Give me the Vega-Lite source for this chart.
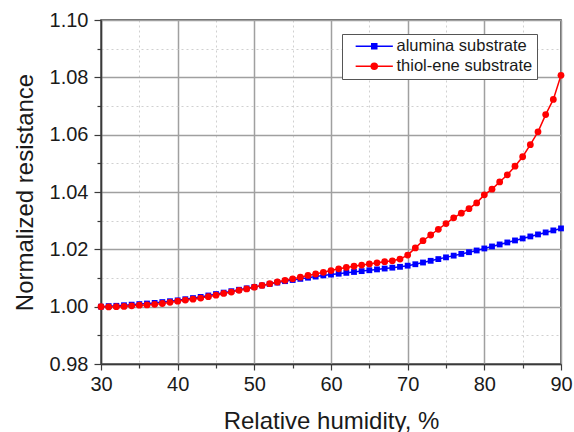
{
  "$schema": "https://vega.github.io/schema/vega-lite/v6.json",
  "width": 460,
  "height": 344,
  "autosize": {"type": "none"},
  "padding": {"left": 101, "top": 20, "right": 13, "bottom": 68},
  "background": "white",
  "config": {
    "font": "Liberation Sans",
    "view": {"stroke": "#3a3a3a", "strokeWidth": 1.5}
  },
  "data": {
    "values": [
      {"rh": 30, "alumina substrate": 1.0000, "thiol-ene substrate": 1.0000},
      {"rh": 31, "alumina substrate": 1.0002, "thiol-ene substrate": 0.9999},
      {"rh": 32, "alumina substrate": 1.0003, "thiol-ene substrate": 1.0000},
      {"rh": 33, "alumina substrate": 1.0005, "thiol-ene substrate": 1.0001},
      {"rh": 34, "alumina substrate": 1.0007, "thiol-ene substrate": 1.0003},
      {"rh": 35, "alumina substrate": 1.0009, "thiol-ene substrate": 1.0005},
      {"rh": 36, "alumina substrate": 1.0011, "thiol-ene substrate": 1.0006},
      {"rh": 37, "alumina substrate": 1.0013, "thiol-ene substrate": 1.0008},
      {"rh": 38, "alumina substrate": 1.0016, "thiol-ene substrate": 1.0011},
      {"rh": 39, "alumina substrate": 1.0019, "thiol-ene substrate": 1.0015},
      {"rh": 40, "alumina substrate": 1.0022, "thiol-ene substrate": 1.0019},
      {"rh": 41, "alumina substrate": 1.0026, "thiol-ene substrate": 1.0023},
      {"rh": 42, "alumina substrate": 1.0030, "thiol-ene substrate": 1.0026},
      {"rh": 43, "alumina substrate": 1.0034, "thiol-ene substrate": 1.0030},
      {"rh": 44, "alumina substrate": 1.0039, "thiol-ene substrate": 1.0035},
      {"rh": 45, "alumina substrate": 1.0044, "thiol-ene substrate": 1.0040},
      {"rh": 46, "alumina substrate": 1.0049, "thiol-ene substrate": 1.0046},
      {"rh": 47, "alumina substrate": 1.0054, "thiol-ene substrate": 1.0051},
      {"rh": 48, "alumina substrate": 1.0059, "thiol-ene substrate": 1.0057},
      {"rh": 49, "alumina substrate": 1.0064, "thiol-ene substrate": 1.0062},
      {"rh": 50, "alumina substrate": 1.0069, "thiol-ene substrate": 1.0068},
      {"rh": 51, "alumina substrate": 1.0074, "thiol-ene substrate": 1.0074},
      {"rh": 52, "alumina substrate": 1.0079, "thiol-ene substrate": 1.0080},
      {"rh": 53, "alumina substrate": 1.0084, "thiol-ene substrate": 1.0086},
      {"rh": 54, "alumina substrate": 1.0089, "thiol-ene substrate": 1.0092},
      {"rh": 55, "alumina substrate": 1.0093, "thiol-ene substrate": 1.0097},
      {"rh": 56, "alumina substrate": 1.0097, "thiol-ene substrate": 1.0103},
      {"rh": 57, "alumina substrate": 1.0101, "thiol-ene substrate": 1.0109},
      {"rh": 58, "alumina substrate": 1.0105, "thiol-ene substrate": 1.0114},
      {"rh": 59, "alumina substrate": 1.0109, "thiol-ene substrate": 1.0120},
      {"rh": 60, "alumina substrate": 1.0112, "thiol-ene substrate": 1.0126},
      {"rh": 61, "alumina substrate": 1.0115, "thiol-ene substrate": 1.0132},
      {"rh": 62, "alumina substrate": 1.0118, "thiol-ene substrate": 1.0137},
      {"rh": 63, "alumina substrate": 1.0121, "thiol-ene substrate": 1.0141},
      {"rh": 64, "alumina substrate": 1.0124, "thiol-ene substrate": 1.0145},
      {"rh": 65, "alumina substrate": 1.0127, "thiol-ene substrate": 1.0149},
      {"rh": 66, "alumina substrate": 1.0130, "thiol-ene substrate": 1.0153},
      {"rh": 67, "alumina substrate": 1.0133, "thiol-ene substrate": 1.0157},
      {"rh": 68, "alumina substrate": 1.0136, "thiol-ene substrate": 1.0160},
      {"rh": 69, "alumina substrate": 1.0139, "thiol-ene substrate": 1.0166},
      {"rh": 70, "alumina substrate": 1.0143, "thiol-ene substrate": 1.0180},
      {"rh": 71, "alumina substrate": 1.0148, "thiol-ene substrate": 1.0205},
      {"rh": 72, "alumina substrate": 1.0154, "thiol-ene substrate": 1.0230},
      {"rh": 73, "alumina substrate": 1.0160, "thiol-ene substrate": 1.0250},
      {"rh": 74, "alumina substrate": 1.0166, "thiol-ene substrate": 1.0270},
      {"rh": 75, "alumina substrate": 1.0172, "thiol-ene substrate": 1.0290},
      {"rh": 76, "alumina substrate": 1.0178, "thiol-ene substrate": 1.0310},
      {"rh": 77, "alumina substrate": 1.0184, "thiol-ene substrate": 1.0326},
      {"rh": 78, "alumina substrate": 1.0190, "thiol-ene substrate": 1.0342},
      {"rh": 79, "alumina substrate": 1.0196, "thiol-ene substrate": 1.0362},
      {"rh": 80, "alumina substrate": 1.0203, "thiol-ene substrate": 1.0390},
      {"rh": 81, "alumina substrate": 1.0210, "thiol-ene substrate": 1.0410},
      {"rh": 82, "alumina substrate": 1.0217, "thiol-ene substrate": 1.0435},
      {"rh": 83, "alumina substrate": 1.0224, "thiol-ene substrate": 1.0460},
      {"rh": 84, "alumina substrate": 1.0231, "thiol-ene substrate": 1.0490},
      {"rh": 85, "alumina substrate": 1.0238, "thiol-ene substrate": 1.0523},
      {"rh": 86, "alumina substrate": 1.0245, "thiol-ene substrate": 1.0565},
      {"rh": 87, "alumina substrate": 1.0252, "thiol-ene substrate": 1.0610},
      {"rh": 88, "alumina substrate": 1.0259, "thiol-ene substrate": 1.0670},
      {"rh": 89, "alumina substrate": 1.0266, "thiol-ene substrate": 1.0723},
      {"rh": 90, "alumina substrate": 1.0273, "thiol-ene substrate": 1.0807}
    ]
  },
  "transform": [
    {"fold": ["alumina substrate", "thiol-ene substrate"], "as": ["series", "resistance"]}
  ],
  "encoding": {
    "x": {
      "field": "rh",
      "type": "quantitative",
      "scale": {"domain": [30, 90], "nice": false, "zero": false},
      "axis": {
        "title": "Relative humidity, %",
        "titleFontSize": 24,
        "titleFontWeight": "normal",
        "titleColor": "#1a1a1a",
        "titlePadding": 15,
        "values": [30, 35, 40, 45, 50, 55, 60, 65, 70, 75, 80, 85, 90],
        "labelExpr": "datum.value % 10 == 0 ? datum.label : ''",
        "labelFontSize": 20,
        "labelColor": "#1a1a1a",
        "labelPadding": 4,
        "labelFlush": false,
        "domainColor": "#3a3a3a",
        "domainWidth": 1.5,
        "tickColor": "#3a3a3a",
        "tickWidth": 1.2,
        "tickSize": {"condition": {"test": "datum.value % 10 == 5", "value": 4}, "value": 6},
        "grid": true,
        "gridColor": {"condition": {"test": "datum.value % 10 == 5", "value": "#d0d0d0"}, "value": "#a0a0a0"},
        "gridDash": {"condition": {"test": "datum.value % 10 == 5", "value": [2, 3]}, "value": []},
        "gridWidth": {"condition": {"test": "datum.value % 10 == 5", "value": 1}, "value": 1.5}
      }
    },
    "y": {
      "field": "resistance",
      "type": "quantitative",
      "scale": {"domain": [0.98, 1.10], "nice": false, "zero": false},
      "axis": {
        "title": "Normalized resistance",
        "titleFontSize": 24,
        "titleFontWeight": "normal",
        "titleColor": "#1a1a1a",
        "titlePadding": 12,
        "values": [0.98, 0.99, 1.0, 1.01, 1.02, 1.03, 1.04, 1.05, 1.06, 1.07, 1.08, 1.09, 1.1],
        "format": ".2f",
        "labelExpr": "round(datum.value * 100) % 2 == 0 ? datum.label : ''",
        "labelFontSize": 20,
        "labelColor": "#1a1a1a",
        "labelPadding": 6,
        "labelFlush": false,
        "domainColor": "#3a3a3a",
        "domainWidth": 1.5,
        "tickColor": "#3a3a3a",
        "tickWidth": 1.2,
        "tickSize": {"condition": {"test": "round(datum.value * 100) % 2 == 1", "value": 4}, "value": 7},
        "grid": true,
        "gridColor": {"condition": {"test": "round(datum.value * 100) % 2 == 1", "value": "#d0d0d0"}, "value": "#a0a0a0"},
        "gridDash": {"condition": {"test": "round(datum.value * 100) % 2 == 1", "value": [2, 3]}, "value": []},
        "gridWidth": {"condition": {"test": "round(datum.value * 100) % 2 == 1", "value": 1}, "value": 1.5}
      }
    }
  },
  "layer": [
    {
      "mark": {"type": "line", "strokeWidth": 1.5},
      "encoding": {
        "stroke": {
          "field": "series",
          "type": "nominal",
          "scale": {"domain": ["alumina substrate", "thiol-ene substrate"], "range": ["#0000ff", "#ff0000"]},
          "legend": {
            "title": null,
            "orient": "none",
            "legendX": 241,
            "legendY": 14,
            "padding": 4,
            "fillColor": "white",
            "strokeColor": "#555555",
            "labelFontSize": 16.5,
            "labelColor": "#1a1a1a",
            "labelOffset": 14,
            "rowPadding": 3,
            "symbolSize": 144,
            "symbolOffset": 20,
            "symbolStrokeWidth": 1.5,
            "encode": {
              "symbols": {
                "update": {
                  "shape": {"signal": "datum.value == 'alumina substrate' ? 'M-3.1,0L3.1,0M-0.42,-0.42L0.42,-0.42L0.42,0.42L-0.42,0.42Z' : 'M-3.1,0L3.1,0M-0.5,0A0.5,0.5 0 1,0 0.5,0A0.5,0.5 0 1,0 -0.5,0Z'"},
                  "fill": {"signal": "datum.value == 'alumina substrate' ? '#0000ff' : '#ff0000'"},
                  "fillOpacity": {"value": 1}
                }
              }
            }
          }
        }
      }
    },
    {
      "transform": [{"filter": "datum.series == 'alumina substrate'"}],
      "mark": {"type": "point", "shape": "square", "filled": true, "opacity": 1, "color": "#0000ff", "size": 34}
    },
    {
      "transform": [{"filter": "datum.series == 'thiol-ene substrate'"}],
      "mark": {"type": "point", "shape": "circle", "filled": true, "opacity": 1, "color": "#ff0000", "size": 46}
    }
  ]
}
